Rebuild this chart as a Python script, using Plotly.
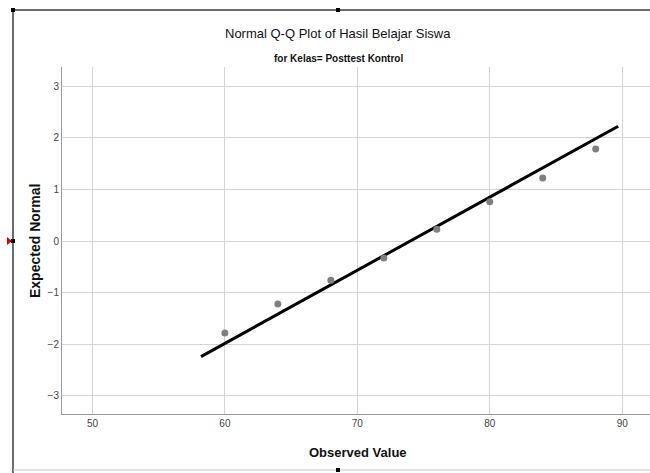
import plotly.graph_objects as go

# Data
observed = [60, 64, 68, 72, 76, 80, 84, 88]
expected = [-1.78, -1.22, -0.76, -0.33, 0.23, 0.76, 1.22, 1.78]
fit_mean = 74.0
fit_sd = 7.06
line_x = [58.2, 89.7]
line_y = [(v - fit_mean) / fit_sd for v in line_x]
x_ticks = [50, 60, 70, 80, 90]
y_ticks = [-3, -2, -1, 0, 1, 2, 3]

W, H = 650, 473
NARROW = "Liberation Sans Narrow, Arial Narrow, Liberation Sans, Arial, sans-serif"
WIDE = "Liberation Sans, Arial, sans-serif"

def px(x):
    return x / W

def py(y):
    return 1 - y / H

fig = go.Figure()
fig.add_trace(go.Scatter(x=line_x, y=line_y, mode="lines",
                         line=dict(color="black", width=3), hoverinfo="skip",
                         showlegend=False))
fig.add_trace(go.Scatter(x=observed, y=expected, mode="markers",
                         marker=dict(color="#7f7f7f", size=7), showlegend=False))

fig.update_layout(
    width=W, height=H,
    margin=dict(l=0, r=0, t=0, b=0),
    paper_bgcolor="white", plot_bgcolor="white",
    xaxis=dict(domain=[px(62), 1.0], range=[47.7, 92.1], tickvals=x_ticks,
               showgrid=True, gridcolor="#d4d4d4", gridwidth=1,
               zeroline=False, showline=True, linecolor="#9a9a9a", linewidth=1,
               ticks="", tickfont=dict(family=NARROW, size=10, color="#444444"),
               title=None),
    yaxis=dict(domain=[py(414), py(67)], range=[-3.35, 3.37], tickvals=y_ticks,
               showgrid=True, gridcolor="#d4d4d4", gridwidth=1,
               zeroline=False, showline=True, linecolor="#9a9a9a", linewidth=1,
               ticks="", tickfont=dict(family=NARROW, size=10, color="#444444"),
               title=None),
)

annotations = [
    dict(text="Normal Q-Q Plot of Hasil Belajar Siswa", x=px(338), y=py(33),
         font=dict(family=NARROW, size=13, color="#111111")),
    dict(text="<b>for Kelas= Posttest Kontrol</b>", x=px(338), y=py(58),
         font=dict(family=NARROW, size=10, color="#111111")),
    dict(text="<b>Observed Value</b>", x=px(358), y=py(452),
         font=dict(family=NARROW, size=13, color="#111111")),
    dict(text="<b>Expected Normal</b>", x=px(35), y=py(241), textangle=-90,
         font=dict(family=WIDE, size=14, color="#111111")),
]
for a in annotations:
    a.update(xref="paper", yref="paper", showarrow=False, xanchor="center", yanchor="middle")
    fig.add_annotation(**a)

shapes = [
    dict(type="line", x0=px(13), x1=px(650), y0=py(10), y1=py(10), line=dict(color="#3a3a3a", width=1.5)),
    dict(type="line", x0=px(13), x1=px(13), y0=py(10), y1=py(473), line=dict(color="#3a3a3a", width=1.5)),
    dict(type="line", x0=px(13), x1=px(650), y0=py(470), y1=py(470), line=dict(color="#c8c8c8", width=1)),
]
for cx, cy in [(13, 10), (338, 10), (13, 241), (338, 470)]:
    shapes.append(dict(type="rect", x0=px(cx - 2), x1=px(cx + 2), y0=py(cy + 2), y1=py(cy - 2),
                       fillcolor="black", line=dict(width=0)))
shapes.append(dict(type="path", path=f"M {px(7)} {py(237)} L {px(12)} {py(241)} L {px(7)} {py(245)} Z",
                   fillcolor="#e00000", line=dict(width=0)))
for s in shapes:
    s.update(xref="paper", yref="paper")
    fig.add_shape(**s)

fig.write_html("out.html")
